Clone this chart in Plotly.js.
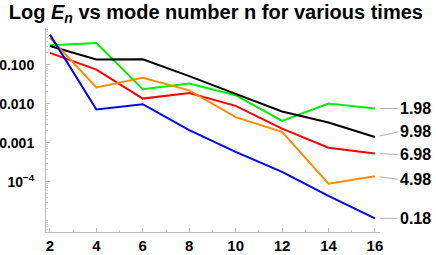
<!DOCTYPE html>
<html>
<head>
<meta charset="utf-8">
<script src="https://cdn.plot.ly/plotly-3.0.1.min.js"></script>
<style>html,body{margin:0;padding:0;background:#fff;}#chart{width:436px;height:255px;}</style>
</head>
<body>
<div id="chart"></div>
<script>
const modes = [2, 4, 6, 8, 10, 12, 14, 16];
const timeLabels = ["1.98", "9.98", "6.98", "4.98", "0.18"];
const e198 = [0.316, 0.36, 0.0235, 0.033, 0.0165, 0.0036, 0.0101, 0.0075];
const e998 = [0.30, 0.136, 0.138, 0.051, 0.0178, 0.0063, 0.0033, 0.0014];
const e698 = [0.20, 0.075, 0.0135, 0.0188, 0.0088, 0.0023, 0.00074, 0.00053];
const e498 = [0.49, 0.026, 0.046, 0.022, 0.0045, 0.0019, 0.000089, 0.000138];
const e018 = [0.59, 0.0071, 0.0097, 0.0021, 0.00058, 0.000178, 0.000043, 0.0000115];
const yTickVals = [0.1, 0.01, 0.001, 0.0001];
const yTickText = ["0.100", "0.010", "0.001", "10<sup>−4</sup>"];
const xTickVals = [2, 4, 6, 8, 10, 12, 14, 16];

const series = [e198, e998, e698, e498, e018];
const colors = ["#00ee00", "#000000", "#ff0000", "#ff8c00", "#0000ff"];
const labelShift = [0, -5, 1, 3, 0];

const traces = series.map((s, i) => ({
  x: modes, y: s, type: "scatter", mode: "lines",
  line: {color: colors[i], width: 2}, showlegend: false, hoverinfo: "skip"
}));

const annotations = series.map((s, i) => ({
  x: modes[modes.length - 1], y: Math.log10(s[s.length - 1]),
  xref: "x", yref: "y",
  text: timeLabels[i], showarrow: true, arrowhead: 0, arrowwidth: 1,
  arrowcolor: "#b0b0b0", standoff: 5, ax: 23, ay: labelShift[i],
  xanchor: "left", yanchor: "middle",
  font: {family: "Liberation Sans, Arial, sans-serif", size: 16, color: "#000", weight: "bold"}
}));

const layout = {
  width: 436, height: 255,
  margin: {l: 46, r: 56, t: 28, b: 23},
  paper_bgcolor: "#fff", plot_bgcolor: "#fff",
  title: {
    text: "<b>Log <i>E</i><sub><i>n</i></sub> vs mode number n for various times</b>",
    x: 0.495, xanchor: "center", y: 0.952, yanchor: "middle",
    font: {family: "Liberation Sans, Arial, sans-serif", size: 20, color: "#000"}
  },
  xaxis: {
    range: [1.83, 16.22], tickvals: xTickVals, showgrid: false, zeroline: false,
    showline: true, linecolor: "#bbbbbb", linewidth: 1,
    ticks: "inside", ticklen: 4, tickcolor: "#bbbbbb",
    minor: {ticks: "inside", ticklen: 2, tickcolor: "#cccccc", dtick: 1},
    tickfont: {family: "Liberation Sans, Arial, sans-serif", size: 15, color: "#000", weight: "bold"}
  },
  yaxis: {
    type: "log", range: [-5.29, -0.06], tickvals: yTickVals, ticktext: yTickText,
    showgrid: false, zeroline: false, showline: true, linecolor: "#bbbbbb", linewidth: 1,
    ticks: "inside", ticklen: 4, tickcolor: "#bbbbbb", ticklabelstandoff: 8,
    minor: {ticks: "inside", ticklen: 2, tickcolor: "#cccccc", dtick: "D1"},
    tickfont: {family: "Liberation Sans, Arial, sans-serif", size: 14, color: "#000", weight: "bold"}
  },
  annotations: annotations
};

Plotly.newPlot("chart", traces, layout, {displayModeBar: false, staticPlot: true});
</script>
</body>
</html>
